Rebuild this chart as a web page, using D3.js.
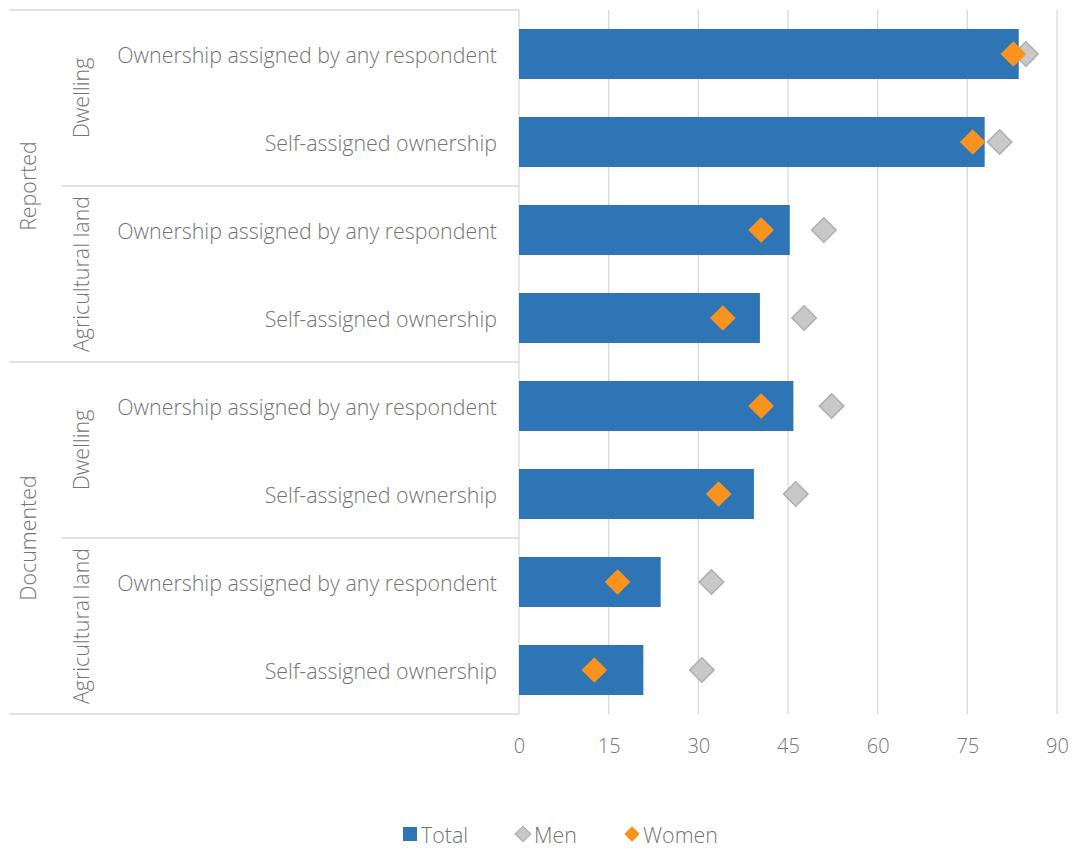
<!DOCTYPE html>
<html>
<head>
<meta charset="utf-8">
<script src="https://cdn.jsdelivr.net/npm/d3@7"></script>
<style>
  html, body { margin: 0; padding: 0; background: #fff; }
  svg text { font-family: "Open Sans", "Segoe UI", sans-serif; font-weight: 300; fill: #737373; }
</style>
</head>
<body>
<svg id="chart" width="1073" height="848"></svg>
<script>
// Ownership of dwelling / agricultural land, % of adults
const measures = ["Reported", "Documented"];
const assets = ["Dwelling", "Agricultural land"];
const ownershipTypes = ["Ownership assigned by any respondent", "Self-assigned ownership"];
const rowLabels = [
  "Ownership assigned by any respondent", "Self-assigned ownership",
  "Ownership assigned by any respondent", "Self-assigned ownership",
  "Ownership assigned by any respondent", "Self-assigned ownership",
  "Ownership assigned by any respondent", "Self-assigned ownership"
];
const totalValues = [83.6, 77.9, 45.3, 40.3, 45.9, 39.3, 23.7, 20.8];
const menValues   = [84.8, 80.4, 51.0, 47.7, 52.3, 46.3, 32.2, 30.6];
const womenValues = [82.7, 75.9, 40.5, 34.1, 40.5, 33.4, 16.5, 12.6];
const xTicks = [0, 15, 30, 45, 60, 75, 90];
const legendItems = ["Total", "Men", "Women"];

const colors = { Total: "#2E75B6", Men: "#C8C8C8", Women: "#F7931E" };
const gridColor = "#D9D9D9";
const labelSize = 21.4;

const svg = d3.select("#chart");
const plot = { left: 519, right: 1057, top: 10, bottom: 714 };

const rows = d3.range(rowLabels.length);
const x = d3.scaleLinear().domain([0, 90]).range([plot.left, plot.right]);
const y = d3.scaleBand().domain(rows)
  .range([plot.top, plot.bottom])
  .paddingInner(0.432).paddingOuter(0.216);
const step = y.step();
const rowCenter = i => y(i) + y.bandwidth() / 2;

// vertical gridlines
svg.append("g").selectAll("line").data(xTicks.slice(1)).join("line")
  .attr("x1", d => x(d)).attr("x2", d => x(d))
  .attr("y1", plot.top).attr("y2", plot.bottom)
  .attr("stroke", gridColor).attr("stroke-width", 1.3);

// category axis frame (hierarchical labels)
const frame = svg.append("g").attr("stroke", gridColor).attr("stroke-width", 1.3);
frame.append("line").attr("x1", x(0)).attr("x2", x(0))
  .attr("y1", plot.top).attr("y2", plot.bottom);
// outer boundaries of each measure group
measures.forEach((m, mi) => {
  const yTop = plot.top + mi * 4 * step;
  frame.append("line").attr("x1", 9).attr("x2", x(0)).attr("y1", yTop).attr("y2", yTop);
});
frame.append("line").attr("x1", 9).attr("x2", x(0)).attr("y1", plot.bottom).attr("y2", plot.bottom);
// separators between asset groups within a measure
measures.forEach((m, mi) => {
  const ySep = plot.top + (mi * 4 + 2) * step;
  frame.append("line").attr("x1", 62).attr("x2", x(0)).attr("y1", ySep).attr("y2", ySep);
});

// row labels
svg.append("g").selectAll("text").data(rows).join("text")
  .attr("x", 497).attr("y", i => rowCenter(i))
  .attr("text-anchor", "end").attr("dominant-baseline", "central")
  .attr("font-size", labelSize)
  .text(i => rowLabels[i]);

// asset labels (rotated)
const assetLabels = [];
measures.forEach((m, mi) => assets.forEach((a, ai) => {
  assetLabels.push({ text: a, cy: plot.top + (mi * 4 + ai * 2 + 1) * step });
}));
svg.append("g").selectAll("text").data(assetLabels).join("text")
  .attr("transform", d => `translate(80,${d.cy}) rotate(-90)`)
  .attr("text-anchor", "middle").attr("dominant-baseline", "central")
  .attr("font-size", labelSize)
  .text(d => d.text);

// measure labels (rotated)
svg.append("g").selectAll("text").data(measures).join("text")
  .attr("transform", (d, mi) => `translate(27,${plot.top + (mi * 4 + 2) * step}) rotate(-90)`)
  .attr("text-anchor", "middle").attr("dominant-baseline", "central")
  .attr("font-size", labelSize)
  .text(d => d);

// total bars
svg.append("g").selectAll("rect").data(rows).join("rect")
  .attr("x", x(0)).attr("y", i => y(i))
  .attr("width", i => x(totalValues[i]) - x(0))
  .attr("height", y.bandwidth())
  .attr("fill", colors.Total);

// diamond markers
const diamond = size => d3.symbol().type(d3.symbolSquare).size(size)();
svg.append("g").selectAll("path").data(rows).join("path")
  .attr("d", diamond(300))
  .attr("transform", i => `translate(${x(menValues[i])},${rowCenter(i)}) rotate(45)`)
  .attr("fill", colors.Men).attr("stroke", "#ADADAD").attr("stroke-width", 1.5);
svg.append("g").selectAll("path").data(rows).join("path")
  .attr("d", diamond(330))
  .attr("transform", i => `translate(${x(womenValues[i])},${rowCenter(i)}) rotate(45)`)
  .attr("fill", colors.Women);

// value axis
const xAxis = d3.axisBottom(x).tickValues(xTicks).tickSize(0).tickPadding(0);
const axisG = svg.append("g").attr("transform", `translate(0,745)`).call(xAxis);
axisG.select(".domain").remove();
axisG.selectAll("text")
  .attr("font-size", 20).attr("dy", null).attr("y", 0)
  .attr("dominant-baseline", "central")
  .style("font-family", '"Open Sans", "Segoe UI", sans-serif')
  .style("font-weight", 300)
  .attr("fill", "#737373");

// legend
const legend = svg.append("g").attr("transform", "translate(0,834)");
const legendPos = [403, 523, 632];
legendItems.forEach((name, k) => {
  const g = legend.append("g").attr("transform", `translate(${legendPos[k]},0)`);
  if (name === "Total") {
    g.append("rect").attr("x", 0).attr("y", -7).attr("width", 14).attr("height", 14)
      .attr("fill", colors.Total);
    g.append("text").attr("x", 18).attr("y", 0).attr("dominant-baseline", "central")
      .attr("font-size", labelSize).text(name);
  } else {
    g.append("path").attr("d", diamond(120)).attr("transform", "rotate(45)")
      .attr("fill", colors[name])
      .attr("stroke", name === "Men" ? "#ADADAD" : "none").attr("stroke-width", 1.2);
    g.append("text").attr("x", 11).attr("y", 0).attr("dominant-baseline", "central")
      .attr("font-size", labelSize).text(name);
  }
});
</script>
</body>
</html>
